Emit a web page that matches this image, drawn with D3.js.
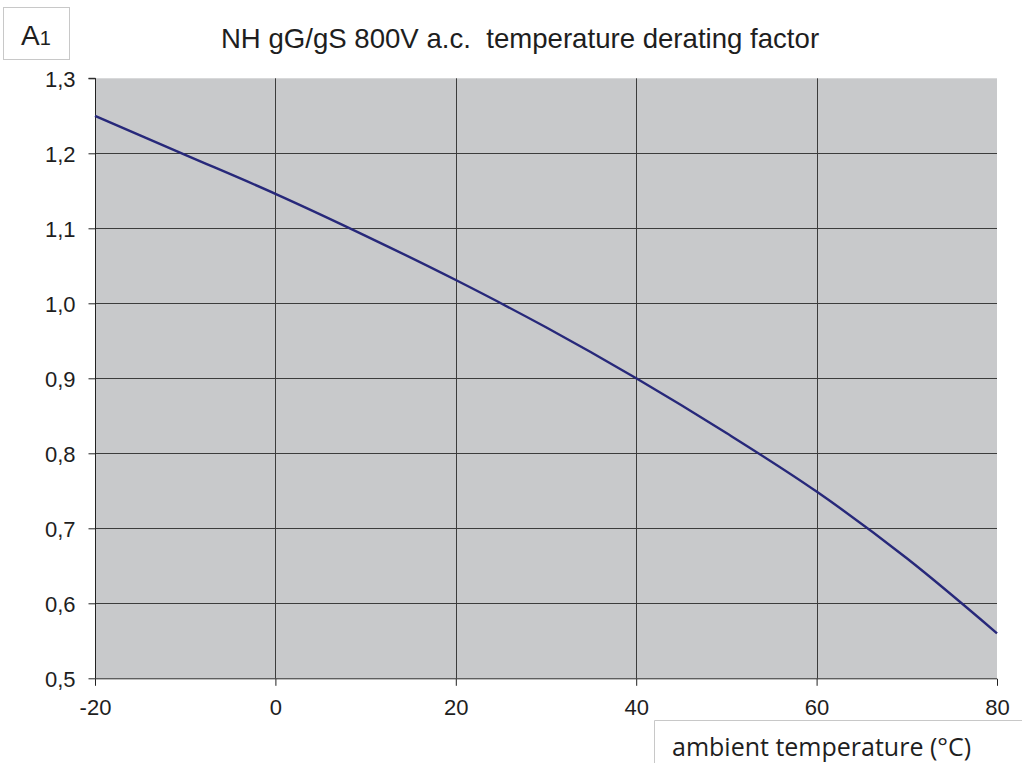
<!DOCTYPE html>
<html><head><meta charset="utf-8">
<script src="https://cdn.jsdelivr.net/npm/d3@7"></script>
<style>body{margin:0;background:#fff}</style>
</head><body><svg id="c" width="1022" height="763"></svg>
<script>
const temps = [-20, -10, 0, 10, 20, 30, 40, 50, 60, 70, 80];
const factors = [1.25, 1.198, 1.146, 1.09, 1.031, 0.968, 0.900, 0.827, 0.749, 0.66, 0.56];
const xTicks = [-20, 0, 20, 40, 60, 80];
const yTicks = [0.5, 0.6, 0.7, 0.8, 0.9, 1.0, 1.1, 1.2, 1.3];
const title = "NH gG/gS 800V a.c.  temperature derating factor";
const xLabel = "ambient temperature (°C)";

const svg = d3.select("#c");
const L = 95, R = 997, T = 78.3, B = 678.3;
const x = d3.scaleLinear().domain([-20, 80]).range([L, R]);
const y = d3.scaleLinear().domain([0.5, 1.3]).range([B, T]);
const FONT = "Liberation Sans, Arial, sans-serif";

svg.append("rect").attr("x", L).attr("y", T).attr("width", R - L).attr("height", B - T).attr("fill", "#c8c9cb");

// gridlines
svg.append("g").selectAll("line").data(yTicks.filter(d => d > 0.5 && d < 1.3)).join("line")
  .attr("x1", L).attr("x2", R).attr("y1", d => Math.round(y(d)) + 0.5).attr("y2", d => Math.round(y(d)) + 0.5)
  .attr("stroke", "#3c3c3c").attr("stroke-width", 1);
svg.append("g").selectAll("line").data(xTicks.filter(d => d > -20 && d < 80)).join("line")
  .attr("y1", T).attr("y2", B).attr("x1", d => Math.round(x(d)) + 0.5).attr("x2", d => Math.round(x(d)) + 0.5)
  .attr("stroke", "#3c3c3c").attr("stroke-width", 1);

const fmt = d => d3.format(".1f")(d).replace(".", ",");
const yAxis = d3.axisLeft(y).tickValues(yTicks).tickSize(7).tickPadding(13).tickFormat(fmt);
const gy = svg.append("g").attr("transform", `translate(${L + 0.5},0)`).call(yAxis);
gy.attr("font-size", 22).attr("font-family", FONT);
gy.select(".domain").attr("stroke", "#222").attr("d", `M-7,${T}H0V${B}`);
gy.selectAll(".tick line").attr("stroke", "#222");
gy.selectAll(".tick text").attr("font-family", FONT).attr("font-size", 22).attr("fill", "#1e1e1e").attr("dy", "0.35em");

const xAxis = d3.axisBottom(x).tickValues(xTicks).tickSize(7).tickPadding(14).tickFormat(d => d);
const gx = svg.append("g").attr("transform", `translate(0,${B + 0.5})`).call(xAxis);
gx.attr("font-size", 22).attr("font-family", FONT);
gx.select(".domain").attr("stroke", "#222").attr("d", `M${L},0H${R}`);
gx.selectAll(".tick line").attr("stroke", "#222");
gx.selectAll(".tick text").attr("font-family", FONT).attr("font-size", 22).attr("fill", "#1e1e1e");

// curve
const line = d3.line().x((d, i) => x(temps[i])).y(d => y(d)).curve(d3.curveMonotoneX);
svg.append("path").attr("d", line(factors)).attr("fill", "none").attr("stroke", "#27287a").attr("stroke-width", 2.4);

// title
svg.append("text").attr("x", 520).attr("y", 48).attr("text-anchor", "middle").style("white-space", "pre")
  .attr("font-family", FONT).attr("font-size", 27.6).attr("fill", "#1e1e1e").text(title);

// A1 box
svg.append("rect").attr("x", 3.5).attr("y", 7.5).attr("width", 66).attr("height", 52).attr("fill", "#fff").attr("stroke", "#c8c8c8");
const a1 = svg.append("text").attr("x", 36).attr("y", 45).attr("text-anchor", "middle")
  .attr("font-family", FONT).attr("fill", "#1e1e1e");
a1.append("tspan").attr("font-size", 28).text("A");
a1.append("tspan").attr("font-size", 20).text("1");

// x label box
svg.append("path").attr("d", "M654.5,763V720.5H1022").attr("fill", "none").attr("stroke", "#c8c8c8");
svg.append("text").attr("x", 672).attr("y", 756)
  .attr("font-family", "Open Sans, sans-serif").attr("font-size", 25).attr("fill", "#1e1e1e").text(xLabel);
</script></body></html>
